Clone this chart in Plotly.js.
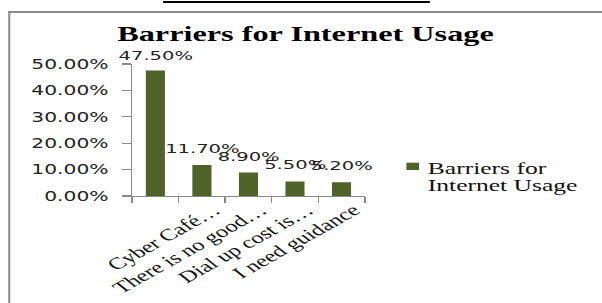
<!DOCTYPE html>
<html>
<head>
<meta charset="utf-8">
<script src="https://cdn.plot.ly/plotly-3.0.1.min.js"></script>
<style>
  html, body { margin: 0; padding: 0; background: #fff; overflow: hidden; }
  #chart { width: 401px; height: 303px; transform: scaleX(1.5012); transform-origin: 0 0; }
</style>
</head>
<body>
<div id="chart"></div>
<script>
// ---- data ----
const categories = ["", "Cyber Café…", "There is no good…", "Dial up cost is…", "I need guidance"];
const values = [0.475, 0.117, 0.089, 0.055, 0.052];
const seriesName = "Barriers for Internet Usage";
const yTickVals = [0, 0.1, 0.2, 0.3, 0.4, 0.5];
const chartTitle = "Barriers for Internet Usage";

// ---- layout geometry (unscaled px) ----
const W = 401, H = 303;
const L = 88, R = W - 243.3, T = 64, B = 107;
const PW = W - L - R, PH = H - T - B;
const px = x => (x - L) / PW;          // pixel x -> paper x
const py = y => (H - B - y) / PH;      // pixel y -> paper y

const idx = categories.map((c, i) => i);
const bounds = [];
for (let i = 0; i <= categories.length; i++) bounds.push(i - 0.5);

const green = "#4F6228";
const axisGray = "#8a8a8a";

const trace = {
  type: "bar",
  x: idx,
  y: values,
  name: seriesName,
  marker: { color: green, line: { width: 0 } },
  cliponaxis: false,
  hoverinfo: "skip"
};

const legendLines = ["Barriers for", "Internet Usage"];

// data labels placed in data coordinates above each bar
const dataLabels = values.map((v, i) => ({
  text: (v * 100).toFixed(2) + "%",
  x: idx[i], y: v, xref: "x", yref: "y",
  xanchor: "center", yanchor: "bottom",
  yshift: i === 0 ? 6 : 7,
  showarrow: false,
  font: { family: "DejaVu Sans", size: 13, color: "#222" }
}));

const legendLabels = legendLines.map((t, i) => ({
  text: t, xref: "paper", yref: "paper",
  x: px(283), y: py(168.3 + i * 17), xanchor: "left", yanchor: "middle",
  showarrow: false,
  font: { family: "Liberation Serif", size: 17, color: "#111" }
}));

const layout = {
  width: W, height: H,
  margin: { l: L, r: R, t: T, b: B, pad: 0 },
  paper_bgcolor: "#fff", plot_bgcolor: "#fff",
  showlegend: false,
  bargap: 0.59,
  title: {
    text: "<b>" + chartTitle + "</b>",
    font: { family: "Liberation Serif", size: 21.5, color: "#000" },
    x: 203.5 / W, xref: "container", xanchor: "center",
    y: 1 - 33 / H, yref: "container", yanchor: "middle"
  },
  xaxis: {
    range: [-0.5, categories.length - 0.5],
    tickmode: "array",
    tickvals: idx,
    ticktext: categories,
    ticks: "",
    tickangle: -40,
    ticklabelshift: 8,
    ticklabelstandoff: -3,
    tickfont: { family: "Liberation Serif", size: 16.5, color: "#111" },
    showline: true, linecolor: axisGray, linewidth: 1.3,
    showgrid: false, zeroline: false,
    minor: { tickmode: "array", tickvals: bounds, ticks: "outside", ticklen: 6, tickcolor: axisGray, tickwidth: 1, showgrid: false }
  },
  yaxis: {
    range: [0, 0.5],
    tickmode: "array",
    tickvals: yTickVals,
    tickformat: ".2%",
    ticks: "outside", ticklen: 6, tickcolor: axisGray, tickwidth: 1.3,
    ticklabelstandoff: 6,
    tickfont: { family: "DejaVu Sans", size: 13.5, color: "#222" },
    showline: true, linecolor: axisGray, linewidth: 1,
    showgrid: false, zeroline: false
  },
  shapes: [
    // outer frame (left + top)
    { type: "line", xref: "paper", yref: "paper", x0: px(6), x1: px(6), y0: py(11), y1: py(310), line: { color: axisGray, width: 1.35 } },
    { type: "line", xref: "paper", yref: "paper", x0: px(5.4), x1: px(410), y0: py(12), y1: py(12), line: { color: axisGray, width: 2 } },
    // underline of the cut-off caption above the chart
    { type: "line", xref: "paper", yref: "paper", x0: px(108.7), x1: px(286.7), y0: py(2), y1: py(2), line: { color: "#000", width: 2 } },
    // legend key
    { type: "rect", xref: "paper", yref: "paper", x0: px(271.1), x1: px(279.5), y0: py(170), y1: py(162.7), fillcolor: green, line: { width: 0 } }
  ],
  annotations: dataLabels.concat(legendLabels)
};

Plotly.newPlot("chart", [trace], layout, { staticPlot: true, displayModeBar: false });
</script>
</body>
</html>
